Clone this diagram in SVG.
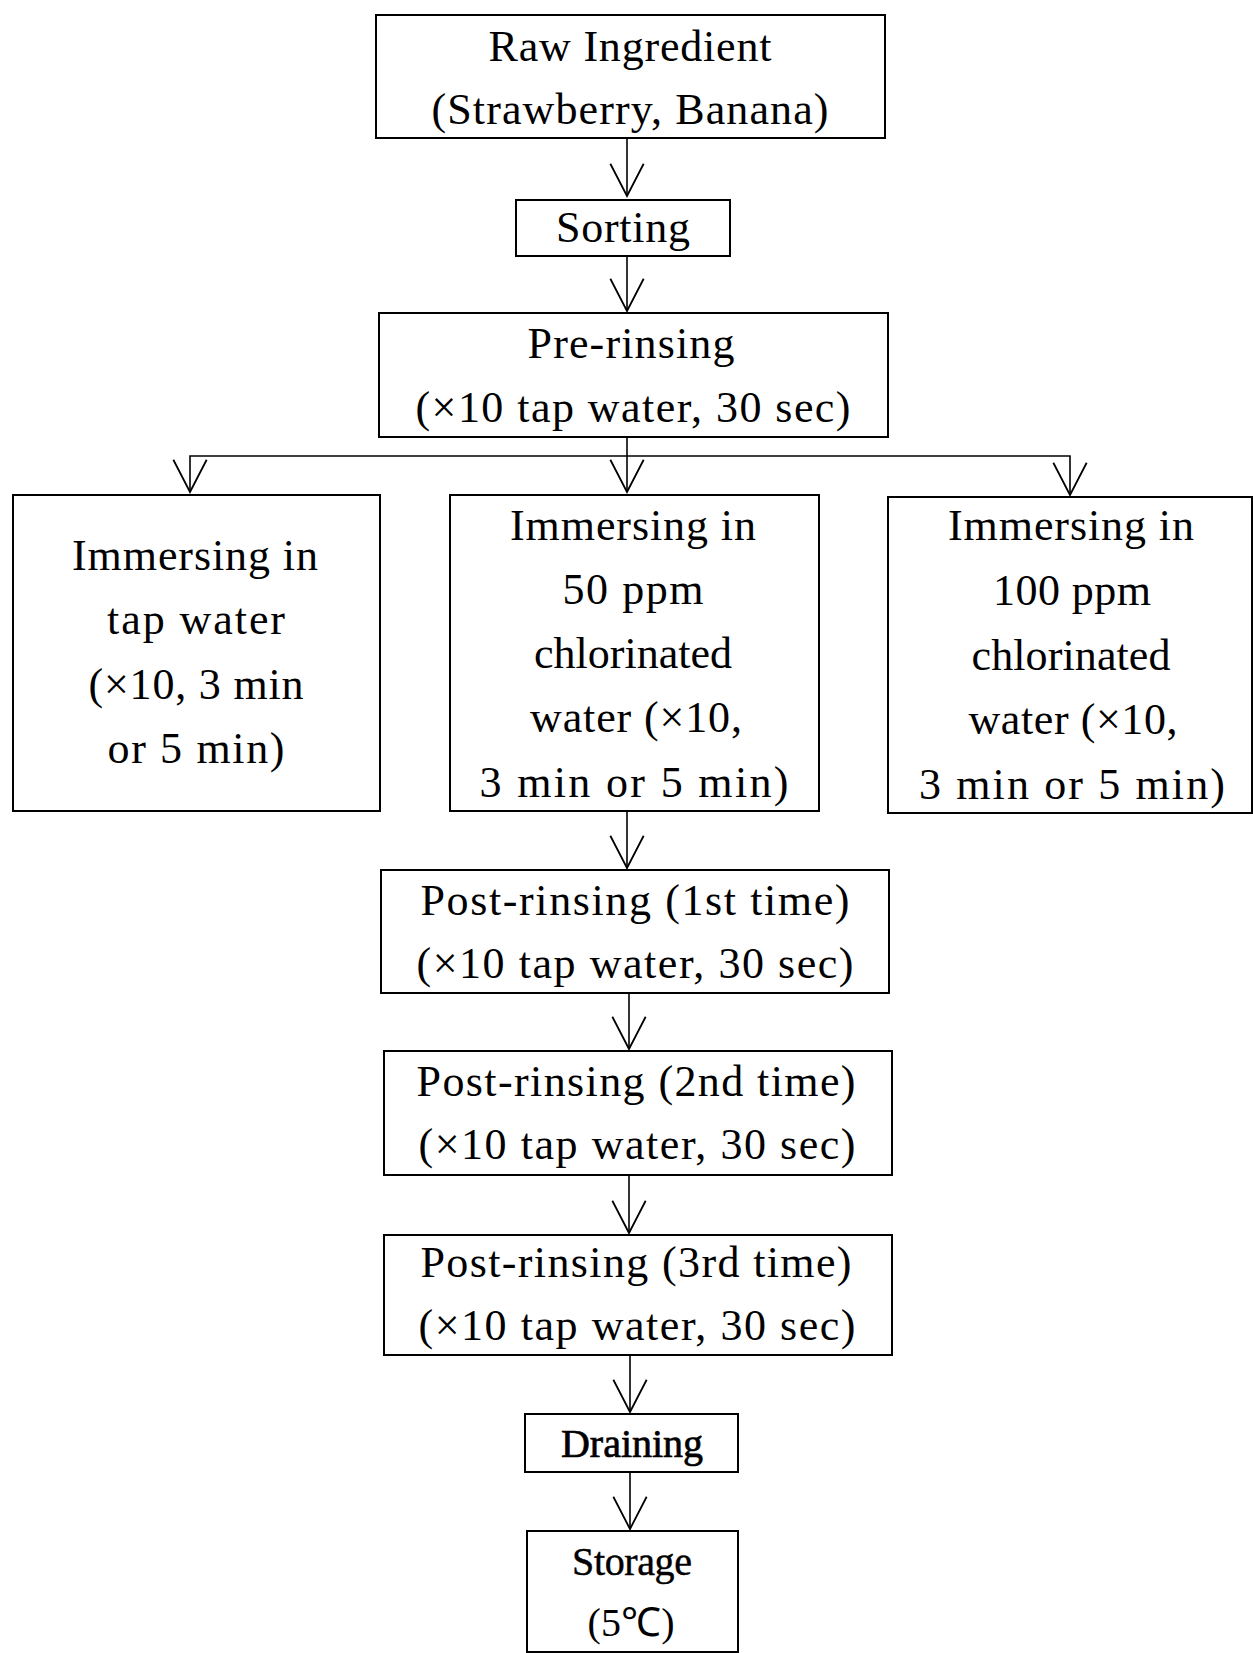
<svg xmlns="http://www.w3.org/2000/svg" width="1253" height="1653" viewBox="0 0 1253 1653">
<style>
.box{fill:#fff;stroke:#000;stroke-width:2}
.t{font-family:"Liberation Serif","Times New Roman",serif;font-size:44px;fill:#000;text-anchor:middle}
.s{font-size:40px}
.b{stroke:#000;stroke-width:0.7}
.b2{stroke:#000;stroke-width:0.45}
.c{fill:none;stroke:#000;stroke-width:1.6}
</style>
<defs>
<marker id="v" markerUnits="userSpaceOnUse" markerWidth="40" markerHeight="40" viewBox="-32 -18 34 36" refX="0" refY="0" orient="auto" overflow="visible">
<path d="M-29,-15 L0,0 L-29,15" fill="none" stroke="#000" stroke-width="1.6"/>
</marker>
</defs>
<rect width="1253" height="1653" fill="#fff"/>
<g id="connectors">
<path class="c" d="M627,138 V196" marker-end="url(#v)"/>
<path class="c" d="M627,256 V311" marker-end="url(#v)"/>
<path class="c" d="M627,437 V492" marker-end="url(#v)"/>
<path class="c" d="M627,456 H190 V492" marker-end="url(#v)"/>
<path class="c" d="M627,456 H1070 V495" marker-end="url(#v)"/>
<path class="c" d="M627,811 V868" marker-end="url(#v)"/>
<path class="c" d="M629,993 V1049" marker-end="url(#v)"/>
<path class="c" d="M629,1175 V1233" marker-end="url(#v)"/>
<path class="c" d="M630,1355 V1412" marker-end="url(#v)"/>
<path class="c" d="M630,1472 V1529" marker-end="url(#v)"/>
</g>
<g id="raw">
<rect class="box" x="376" y="15" width="509" height="123"/>
<text class="t" x="630" y="61" textLength="283" lengthAdjust="spacing">Raw Ingredient</text>
<text class="t" x="630" y="124" textLength="397" lengthAdjust="spacing">(Strawberry, Banana)</text>
</g>
<g id="sorting">
<rect class="box" x="516" y="200" width="214" height="56"/>
<text class="t" x="623" y="242" textLength="134" lengthAdjust="spacing">Sorting</text>
</g>
<g id="prerinse">
<rect class="box" x="379" y="313" width="509" height="124"/>
<text class="t" x="631" y="358" textLength="207" lengthAdjust="spacing">Pre-rinsing</text>
<text class="t" x="633" y="422" textLength="435" lengthAdjust="spacing">(×10 tap water, 30 sec)</text>
</g>
<g id="tap">
<rect class="box" x="13" y="495" width="367" height="316"/>
<text class="t" x="195" y="570" textLength="246" lengthAdjust="spacing">Immersing in</text>
<text class="t" x="196" y="634" textLength="178" lengthAdjust="spacing">tap water</text>
<text class="t" x="196" y="699" textLength="215" lengthAdjust="spacing">(×10, 3 min</text>
<text class="t" x="196" y="763" textLength="177" lengthAdjust="spacing">or 5 min)</text>
</g>
<g id="cl50">
<rect class="box" x="450" y="495" width="369" height="316"/>
<text class="t" x="633" y="540" textLength="246" lengthAdjust="spacing">Immersing in</text>
<text class="t" x="633" y="604" textLength="141" lengthAdjust="spacing">50 ppm</text>
<text class="t" x="633" y="668" textLength="198" lengthAdjust="spacing">chlorinated</text>
<text class="t" x="636" y="732" textLength="212" lengthAdjust="spacing">water (×10,</text>
<text class="t" x="634" y="797" textLength="309" lengthAdjust="spacing">3 min or 5 min)</text>
</g>
<g id="cl100">
<rect class="box" x="888" y="497" width="364" height="316"/>
<text class="t" x="1071" y="540" textLength="246" lengthAdjust="spacing">Immersing in</text>
<text class="t" x="1072" y="605" textLength="158" lengthAdjust="spacing">100 ppm</text>
<text class="t" x="1071" y="670" textLength="199" lengthAdjust="spacing">chlorinated</text>
<text class="t" x="1073" y="734" textLength="209" lengthAdjust="spacing">water (×10,</text>
<text class="t" x="1072" y="799" textLength="306" lengthAdjust="spacing">3 min or 5 min)</text>
</g>
<g id="post1">
<rect class="box" x="381" y="870" width="508" height="123"/>
<text class="t" x="635" y="915" textLength="429" lengthAdjust="spacing">Post-rinsing (1st time)</text>
<text class="t" x="635" y="978" textLength="437" lengthAdjust="spacing">(×10 tap water, 30 sec)</text>
</g>
<g id="post2">
<rect class="box" x="384" y="1051" width="508" height="124"/>
<text class="t" x="636" y="1096" textLength="439" lengthAdjust="spacing">Post-rinsing (2nd time)</text>
<text class="t" x="637" y="1159" textLength="437" lengthAdjust="spacing">(×10 tap water, 30 sec)</text>
</g>
<g id="post3">
<rect class="box" x="384" y="1235" width="508" height="120"/>
<text class="t" x="636" y="1277" textLength="431" lengthAdjust="spacing">Post-rinsing (3rd time)</text>
<text class="t" x="637" y="1340" textLength="437" lengthAdjust="spacing">(×10 tap water, 30 sec)</text>
</g>
<g id="draining">
<rect class="box" x="525" y="1414" width="213" height="58"/>
<text class="t s b" x="632" y="1457" textLength="142" lengthAdjust="spacing">Draining</text>
</g>
<g id="storage">
<rect class="box" x="527" y="1531" width="211" height="121"/>
<text class="t s b2" x="632" y="1575" textLength="120" lengthAdjust="spacing">Storage</text>
<text class="t s" x="631" y="1636" textLength="87" lengthAdjust="spacing">(5℃)</text>
</g>
</svg>
